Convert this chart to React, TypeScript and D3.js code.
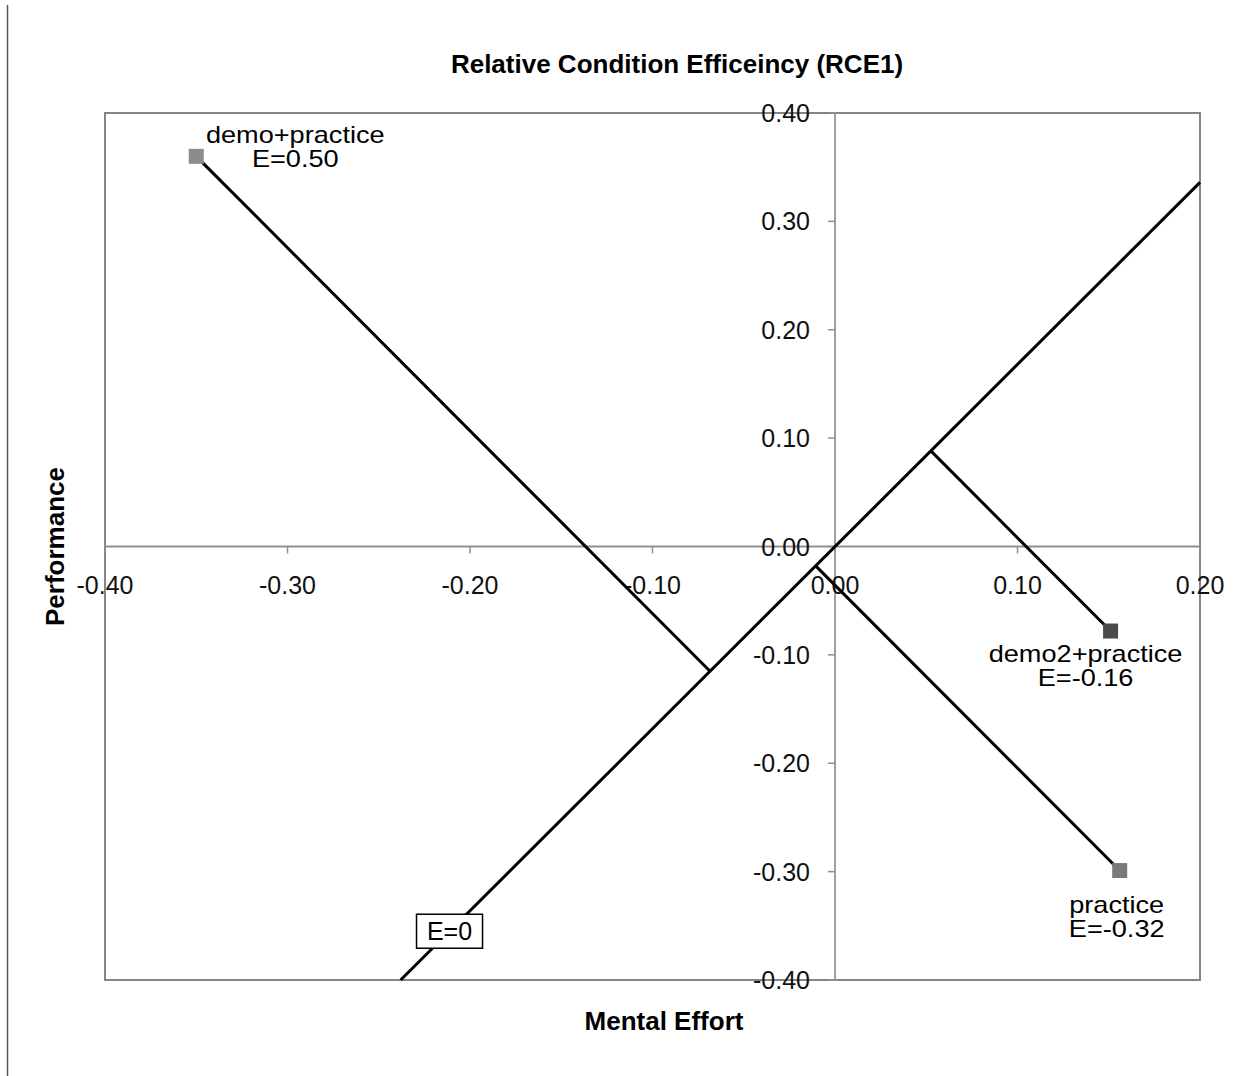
import React from "react";
import * as d3 from "d3";

const conditions = ["demo+practice", "demo2+practice", "practice"];
const effort = [-0.35, 0.151, 0.156];
const performance = [0.36, -0.078, -0.299];
const efficiencyLabels = ["E=0.50", "E=-0.16", "E=-0.32"];
const markerColors = ["#8c8c8c", "#4a4a4a", "#7a7a7a"];
// label offsets (px) relative to marker: [dx, dy line1 baseline]
const labelOffsets = [
  [99, -13],
  [-25, 31],
  [-3, 42],
];

const eLineEffort = [-0.238, 0.2];
const eLinePerf = [-0.4, 0.336];
const eLabelPerf = -0.355;

const xTicks = [-0.4, -0.3, -0.2, -0.1, 0.0, 0.1, 0.2];
const yTicks = [0.4, 0.3, 0.2, 0.1, 0.0, -0.1, -0.2, -0.3, -0.4];

const W = 1252;
const H = 1076;
const plot = { left: 105, right: 1200, top: 113, bottom: 980 };
const font = "'Liberation Sans', Arial, Helvetica, sans-serif";

export default function App() {
  const x = d3.scaleLinear().domain([-0.4, 0.2]).range([plot.left, plot.right]);
  const y = d3.scaleLinear().domain([-0.4, 0.4]).range([plot.bottom, plot.top]);
  const x0 = x(0);
  const y0 = y(0);

  const ex1 = x(eLineEffort[0]);
  const ey1 = y(eLinePerf[0]);
  const ex2 = x(eLineEffort[1]);
  const ey2 = y(eLinePerf[1]);
  const ux = ex2 - ex1;
  const uy = ey2 - ey1;
  const ulen2 = ux * ux + uy * uy;
  const foot = (px: number, py: number) => {
    const t = ((px - ex1) * ux + (py - ey1) * uy) / ulen2;
    return [ex1 + t * ux, ey1 + t * uy];
  };

  const lineGen = d3.line<[number, number]>();

  const tLab = (y(eLabelPerf) - ey1) / uy;
  const labX = ex1 + tLab * ux;
  const labY = y(eLabelPerf);

  return (
    <div style={{ position: "absolute", left: 0, top: 0 }}>
      <svg width={W} height={H} style={{ display: "block", background: "#fff" }} fontFamily={font}>
        <rect x={0} y={0} width={W} height={H} fill="#fff" />
        <line x1={7.5} y1={5} x2={7.5} y2={H} stroke="#555" strokeWidth={1.5} />

        <text x={677} y={73} textAnchor="middle" fontWeight="bold" fontSize={26} fill="#000">
          Relative Condition Efficeincy (RCE1)
        </text>

        <rect
          x={plot.left}
          y={plot.top}
          width={plot.right - plot.left}
          height={plot.bottom - plot.top}
          fill="none"
          stroke="#858585"
          strokeWidth={2}
        />

        <line x1={plot.left} y1={y0} x2={plot.right} y2={y0} stroke="#8f8f8f" strokeWidth={2} />
        <line x1={x0} y1={plot.top} x2={x0} y2={plot.bottom} stroke="#a0a0a0" strokeWidth={2} />

        {xTicks.map((t) => (
          <g key={"xt" + t}>
            <line x1={x(t)} y1={y0} x2={x(t)} y2={y0 + 7} stroke="#8f8f8f" strokeWidth={1.5} />
            <text x={x(t)} y={594} textAnchor="middle" fontSize={25} fill="#111">
              {t.toFixed(2)}
            </text>
          </g>
        ))}
        {yTicks.map((t) => (
          <g key={"yt" + t}>
            <line x1={x0 - 7} y1={y(t)} x2={x0} y2={y(t)} stroke="#8f8f8f" strokeWidth={1.5} />
            <text x={810} y={y(t) + 9} textAnchor="end" fontSize={25} fill="#111">
              {t.toFixed(2)}
            </text>
          </g>
        ))}

        <path
          d={lineGen([
            [ex1, ey1],
            [ex2, ey2],
          ]) || ""}
          stroke="#000"
          strokeWidth={3}
          fill="none"
        />

        {conditions.map((c, i) => {
          const px = x(effort[i]);
          const py = y(performance[i]);
          const [fx, fy] = foot(px, py);
          return (
            <path
              key={"p" + c}
              d={lineGen([
                [px, py],
                [fx, fy],
              ]) || ""}
              stroke="#000"
              strokeWidth={3}
              fill="none"
            />
          );
        })}

        {conditions.map((c, i) => {
          const px = x(effort[i]);
          const py = y(performance[i]);
          const [dx, dy] = labelOffsets[i];
          return (
            <g key={"m" + c}>
              <rect x={px - 7.5} y={py - 7.5} width={15} height={15} fill={markerColors[i]} />
              <text
                transform={`translate(${px + dx}, ${py + dy}) scale(1.18, 1)`}
                textAnchor="middle"
                fontSize={23}
                fill="#000"
              >
                {c}
              </text>
              <text
                transform={`translate(${px + dx}, ${py + dy + 24}) scale(1.18, 1)`}
                textAnchor="middle"
                fontSize={23}
                fill="#000"
              >
                {efficiencyLabels[i]}
              </text>
            </g>
          );
        })}

        <rect x={labX - 33} y={labY - 17} width={66} height={34} fill="#fff" stroke="#000" strokeWidth={1.5} />
        <text x={labX} y={labY + 9} textAnchor="middle" fontSize={25} fill="#000">
          E=0
        </text>

        <text x={664} y={1030} textAnchor="middle" fontWeight="bold" fontSize={26} fill="#000">
          Mental Effort
        </text>
        <text
          transform={`translate(64, ${y0}) rotate(-90)`}
          textAnchor="middle"
          fontWeight="bold"
          fontSize={26}
          fill="#000"
        >
          Performance
        </text>
      </svg>
    </div>
  );
}
